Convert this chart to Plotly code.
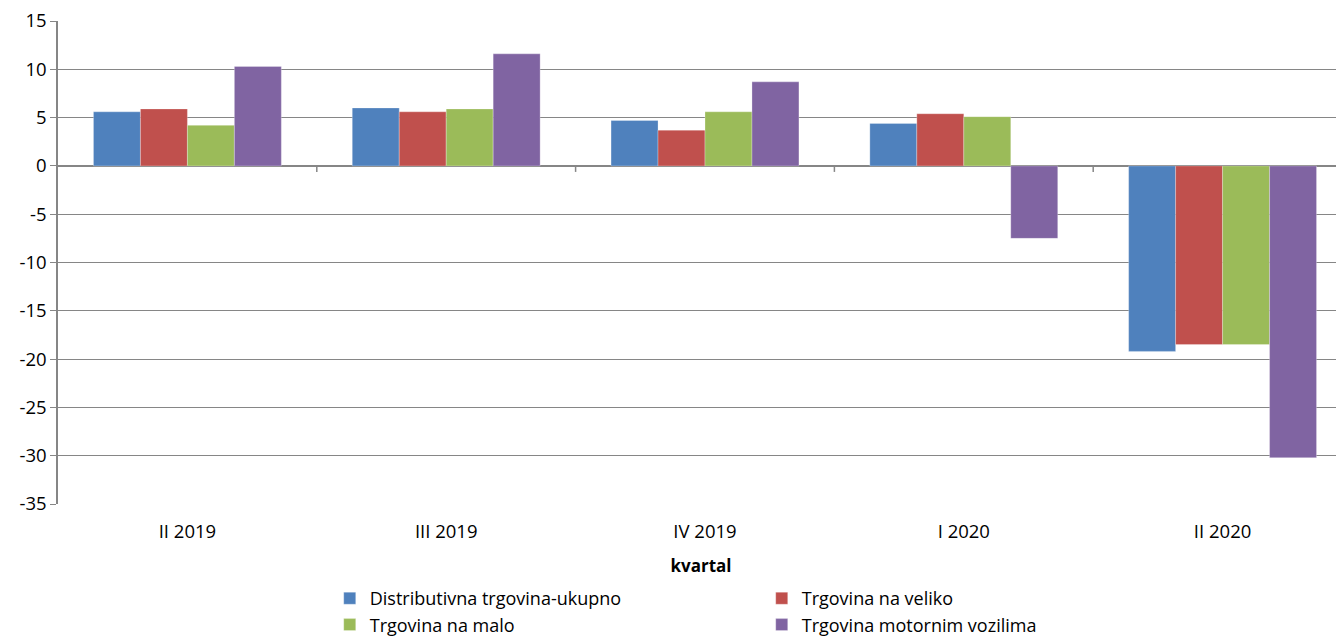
import plotly.graph_objects as go

categories = ["II 2019", "III 2019", "IV 2019", "I 2020", "II 2020"]
series_names = ["Distributivna trgovina-ukupno", "Trgovina na veliko",
                "Trgovina na malo", "Trgovina motornim vozilima"]
dist_ukupno = [5.6, 6.0, 4.7, 4.4, -19.2]
na_veliko = [5.9, 5.6, 3.7, 5.4, -18.5]
na_malo = [4.2, 5.9, 5.6, 5.1, -18.5]
motorna_vozila = [10.3, 11.6, 8.7, -7.5, -30.2]
y_ticks = [15, 10, 5, 0, -5, -10, -15, -20, -25, -30, -35]
y_ticktext = ["15", "10", "5", "0", "-5", "-10", "-15", "-20", "-25", "-30", "-35"]

colors = ["#4F81BD", "#C0504D", "#9BBB59", "#8064A2"]
values = [dist_ukupno, na_veliko, na_malo, motorna_vozila]

font = "'Open Sans', sans-serif"
fig = go.Figure()
for name, vals, col in zip(series_names, values, colors):
    fig.add_trace(go.Bar(x=list(range(len(categories))), y=vals, name=name,
                         marker=dict(color=col, line=dict(color="rgba(255,255,255,0.35)", width=0.8))))

# category boundary tick marks on the zero line
for i in range(len(categories) - 1):
    fig.add_shape(type="line", xref="x", yref="y", x0=i + 0.5, x1=i + 0.5,
                  ysizemode="pixel", yanchor=0, y0=0, y1=-6,
                  line=dict(color="#868686", width=1.5), layer="above")

fig.update_layout(
    width=1336, height=628,
    margin=dict(l=50, r=0, t=13, b=132, autoexpand=False),
    plot_bgcolor="white", paper_bgcolor="white",
    barmode="group", bargap=0.274, bargroupgap=0,
    font=dict(family=font, size=18.5, color="#000000"),
    showlegend=True,
    legend=dict(orientation="h", x=0.2113, y=-0.1574, xanchor="left", yanchor="top",
                entrywidth=387, entrywidthmode="pixels", traceorder="normal",
                font=dict(size=18), itemwidth=30, tracegroupgap=0),
    xaxis=dict(range=[-0.5, 4.5 - 8 / 259], tickmode="array", automargin=False,
               tickvals=list(range(len(categories))), ticktext=categories,
               showgrid=False, zeroline=False, showline=False,
               ticks="outside", ticklen=11, tickcolor="rgba(0,0,0,0)",
               tickfont=dict(size=18.5),
               title=dict(text="<b>kvartal</b>", font=dict(size=17), standoff=17)),
    yaxis=dict(range=[-35, 15.001], tickmode="array", tickvals=y_ticks, ticktext=y_ticktext,
               showgrid=True, automargin=False, ticklabeloverflow="allow",
               gridcolor="#868686", gridwidth=1.3,
               zeroline=True, zerolinecolor="#868686", zerolinewidth=1.5,
               showline=True, linecolor="#868686", linewidth=1.5,
               ticks="outside", ticklen=6, tickcolor="#868686",
               tickfont=dict(size=18.5)),
)

fig.write_html("out.html")
